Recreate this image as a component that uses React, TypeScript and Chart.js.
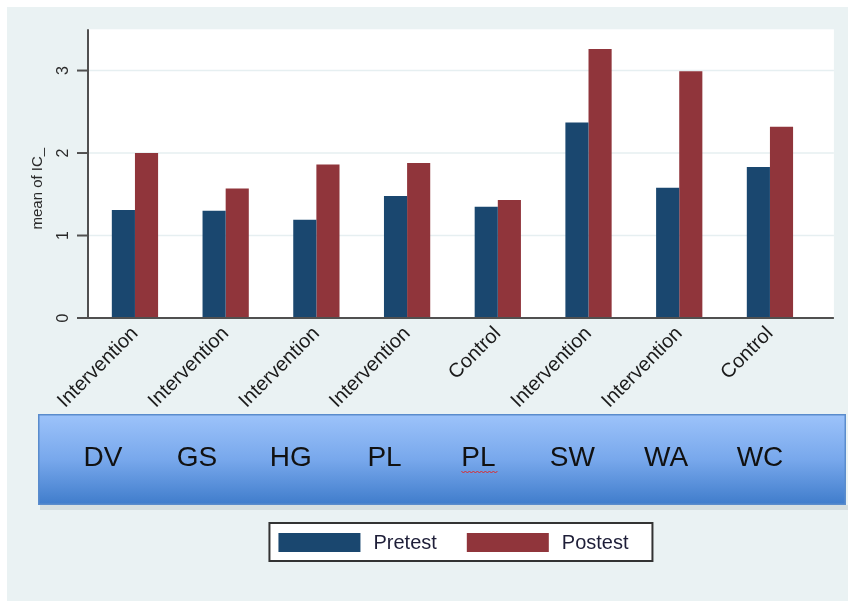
import React, { useEffect, useRef } from "react";
import { Chart, registerables } from "chart.js";

Chart.register(...registerables);

const groups = ["Intervention", "Intervention", "Intervention", "Intervention", "Control", "Intervention", "Intervention", "Control"];
const sites = ["DV", "GS", "HG", "PL", "PL", "SW", "WA", "WC"];
const pretest = [1.31, 1.3, 1.19, 1.48, 1.35, 2.37, 1.58, 1.83];
const postest = [2.0, 1.57, 1.86, 1.88, 1.43, 3.26, 2.99, 2.32];
const yTicks = [0, 1, 2, 3];
const yTitle = "mean of IC_";
const seriesNames = ["Pretest", "Postest"];
const seriesColors = ["#1a476f", "#90353b"];

const W = 848;
const H = 601;
const FONT = "Arial, 'Liberation Sans', sans-serif";

const decor = {
  id: "decor",
  beforeDraw(chart: any) {
    const ctx = chart.ctx as CanvasRenderingContext2D;
    const ca = chart.chartArea;
    const y = chart.scales.y;
    const cat = (ca.right - ca.left) / groups.length;
    const plotLeft = ca.left - 1.6;
    const plotRight = ca.right + cat * 0.205;
    ctx.save();
    ctx.fillStyle = "#ffffff";
    ctx.fillRect(0, 0, W, H);
    ctx.fillStyle = "#eaf2f3";
    ctx.fillRect(7, 7, W - 7, H - 7);
    // plot region
    ctx.fillStyle = "#ffffff";
    ctx.fillRect(plotLeft, ca.top, plotRight - plotLeft, ca.bottom - ca.top);
    // grid lines
    ctx.strokeStyle = "#e6eff1";
    ctx.lineWidth = 1.5;
    yTicks.forEach((t) => {
      if (t === 0) return;
      const py = y.getPixelForValue(t);
      ctx.beginPath();
      ctx.moveTo(plotLeft, py);
      ctx.lineTo(plotRight, py);
      ctx.stroke();
    });

    // banner
    const bx = 38, by = 414, bw = 808, bh = 91;
    ctx.fillStyle = "rgba(170,180,185,0.3)";
    ctx.fillRect(bx + 2, by + bh, bw, 5);
    const g = ctx.createLinearGradient(0, by, 0, by + bh);
    g.addColorStop(0, "#9dc3fa");
    g.addColorStop(0.5, "#78a8ec");
    g.addColorStop(1, "#3f7ccb");
    ctx.fillStyle = g;
    ctx.fillRect(bx, by, bw, bh);
    ctx.strokeStyle = "#5a8ccc";
    ctx.lineWidth = 1.5;
    ctx.strokeRect(bx + 0.75, by + 0.75, bw - 1.5, bh - 1.5);
    ctx.fillStyle = "#111111";
    ctx.font = `28px ${FONT}`;
    ctx.textAlign = "center";
    ctx.textBaseline = "middle";
    const first = bx + 65;
    const last = bx + bw - 86;
    const step = (last - first) / (sites.length - 1);
    sites.forEach((s, i) => {
      ctx.fillText(s, first + i * step, by + 44);
    });
    // spell-check squiggle under the second PL
    const sqx = first + 4 * step;
    ctx.strokeStyle = "#e02828";
    ctx.lineWidth = 1;
    ctx.beginPath();
    for (let k = 0; k <= 18; k++) {
      const px = sqx - 17 + k * 2;
      const py = by + 57 + (k % 2 === 0 ? 0 : 2);
      if (k === 0) ctx.moveTo(px, py);
      else ctx.lineTo(px, py);
    }
    ctx.stroke();

    // legend
    const midX = (plotLeft + plotRight) / 2;
    const lw = 383, lh = 38;
    const lx = midX - lw / 2, ly = 523;
    ctx.fillStyle = "#ffffff";
    ctx.fillRect(lx, ly, lw, lh);
    ctx.strokeStyle = "#333333";
    ctx.lineWidth = 2;
    ctx.strokeRect(lx, ly, lw, lh);
    ctx.font = `20px ${FONT}`;
    ctx.textAlign = "left";
    ctx.textBaseline = "middle";
    let cx = lx + 9;
    seriesNames.forEach((n, i) => {
      ctx.fillStyle = seriesColors[i];
      ctx.fillRect(cx, ly + 10, 82, 19);
      cx += 82 + 13;
      ctx.fillStyle = "#1e1e38";
      ctx.fillText(n, cx, ly + lh / 2 + 1);
      cx += ctx.measureText(n).width + 30;
    });
    ctx.restore();
  },
  afterDatasetsDraw(chart: any) {
    const ctx = chart.ctx as CanvasRenderingContext2D;
    const ca = chart.chartArea;
    const y = chart.scales.y;
    const cat = (ca.right - ca.left) / groups.length;
    const plotLeft = ca.left - 1.6;
    const plotRight = ca.right + cat * 0.205;
    ctx.save();
    ctx.strokeStyle = "#505050";
    ctx.lineWidth = 2;
    ctx.beginPath();
    ctx.moveTo(plotLeft, ca.top);
    ctx.lineTo(plotLeft, ca.bottom);
    ctx.lineTo(plotRight, ca.bottom);
    ctx.stroke();
    ctx.font = `16px ${FONT}`;
    ctx.fillStyle = "#2a2a2a";
    ctx.textAlign = "center";
    ctx.textBaseline = "middle";
    yTicks.forEach((t) => {
      const py = y.getPixelForValue(t);
      ctx.beginPath();
      ctx.moveTo(plotLeft - 11, py);
      ctx.lineTo(plotLeft, py);
      ctx.stroke();
      ctx.save();
      ctx.translate(plotLeft - 24, py);
      ctx.rotate(-Math.PI / 2);
      ctx.fillText(String(t), 0, 0);
      ctx.restore();
    });
    ctx.font = `15px ${FONT}`;
    ctx.save();
    ctx.translate(plotLeft - 50, (ca.top + ca.bottom) / 2 + 15);
    ctx.rotate(-Math.PI / 2);
    ctx.fillText(yTitle, 0, 0);
    ctx.restore();
    ctx.restore();
  },
};

export default function App() {
  const ref = useRef<HTMLCanvasElement | null>(null);
  useEffect(() => {
    if (!ref.current) return;
    const chart = new Chart(ref.current, {
      type: "bar",
      data: {
        labels: groups,
        datasets: [
          { label: seriesNames[0], data: pretest, backgroundColor: seriesColors[0], categoryPercentage: 0.51, barPercentage: 1.0 },
          { label: seriesNames[1], data: postest, backgroundColor: seriesColors[1], categoryPercentage: 0.51, barPercentage: 1.0 },
        ],
      },
      options: {
        responsive: false,
        animation: false,
        devicePixelRatio: 1,
        layout: { padding: { left: 0, right: 32.7, top: 29.3, bottom: 0 } },
        plugins: { legend: { display: false }, tooltip: { enabled: false }, title: { display: false } },
        scales: {
          y: {
            min: 0,
            max: 3.5,
            ticks: { display: false },
            grid: { display: false },
            border: { display: false },
            afterFit: (s: any) => { s.width = 89.6; },
          },
          x: {
            grid: { display: false },
            border: { display: false },
            ticks: {
              minRotation: 45,
              maxRotation: 45,
              padding: -4,
              color: "#1a1a1a",
              font: { family: FONT, size: 20 },
            },
            afterFit: (s: any) => { s.height = H - 318; },
          },
        },
      },
      plugins: [decor],
    });
    return () => chart.destroy();
  }, []);
  return (
    <div style={{ position: "fixed", left: 0, top: 0, width: W, height: H }}>
      <canvas ref={ref} width={W} height={H} style={{ width: W, height: H, display: "block" }} />
    </div>
  );
}
